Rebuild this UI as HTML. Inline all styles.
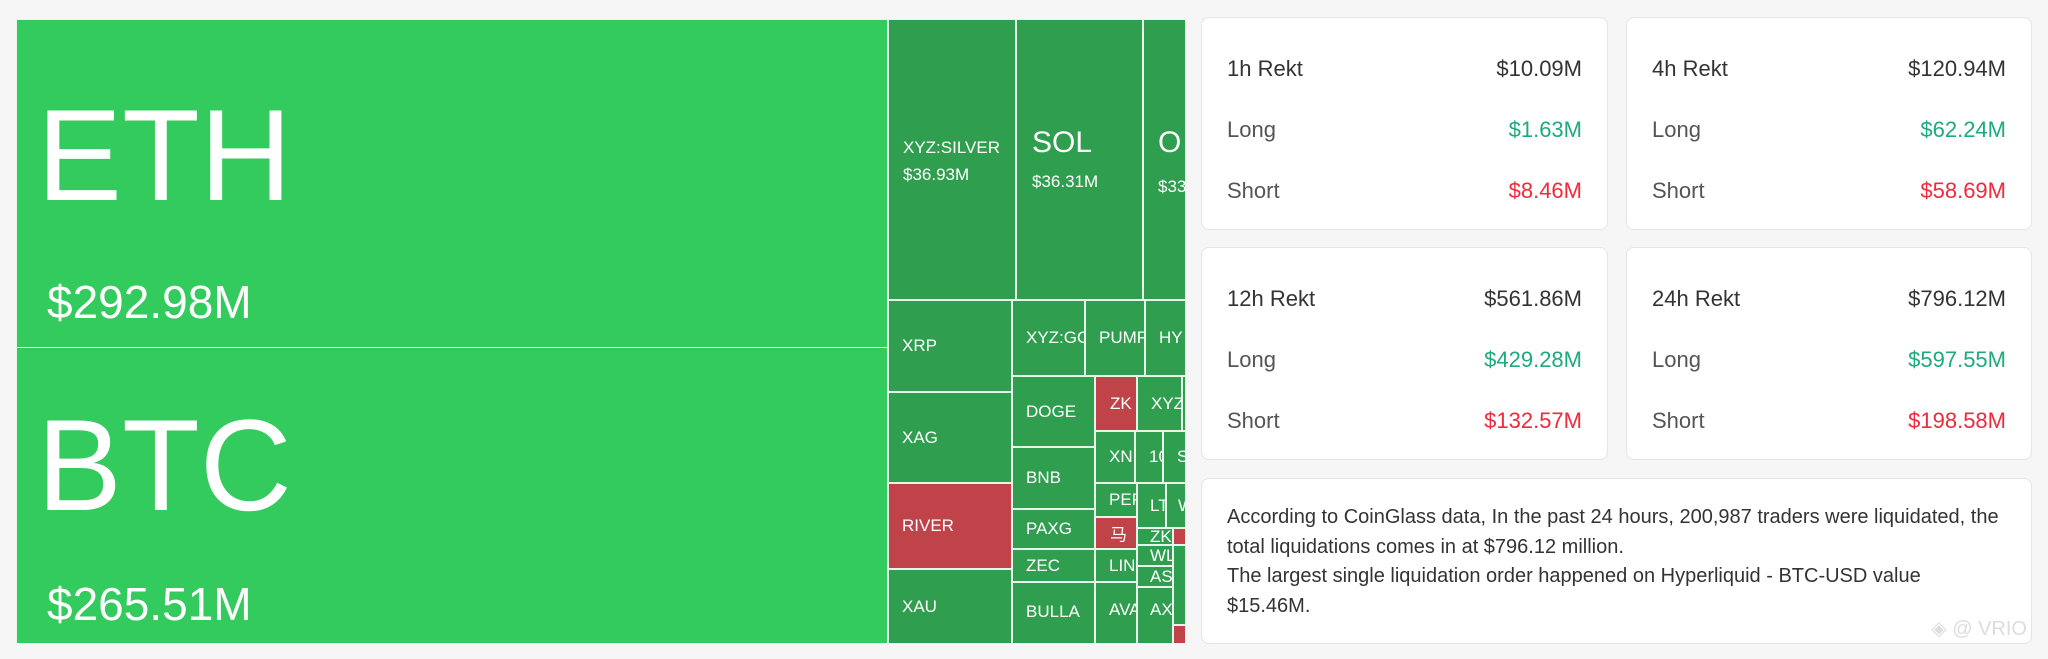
<!DOCTYPE html>
<html><head><meta charset="utf-8"><style>
body{margin:0;width:2048px;height:659px;background:#f6f6f6;position:relative;overflow:hidden;font-family:"Liberation Sans","Noto Sans CJK SC",sans-serif}
.t{position:absolute;box-sizing:border-box;border:1px solid #e8f5ea;color:#fff;overflow:hidden;white-space:nowrap;background:#2f9e4f}
.t span{position:absolute;left:13px;top:50%;transform:translateY(-50%);font-size:17px}
.r{background:#c0434a}
.b{background:#34cb5e}
.big{position:absolute;left:20px;font-size:130px;transform:scaleX(0.98);transform-origin:left top}
.card{position:absolute;background:#fff;border:1px solid #e4e4e4;border-radius:8px;box-sizing:border-box}
.row{position:absolute;left:25px;right:25px;font-size:22px;color:#555;display:flex;justify-content:space-between}
.row b{font-weight:normal;color:#333}
.g{color:#1daa7d!important}.rd{color:#ee2a3c!important}
</style></head><body>
<div class="t b" style="left:16px;top:19px;width:872px;height:329px"><div class="big" style="top:60px">ETH</div><div style="position:absolute;left:30px;top:255px;font-size:46px">$292.98M</div></div>
<div class="t b" style="left:16px;top:347px;width:872px;height:297px"><div class="big" style="top:42px">BTC</div><div style="position:absolute;left:30px;top:229px;font-size:46px">$265.51M</div></div>
<div class="t" style="left:888px;top:19px;width:128px;height:281px"><div style="position:absolute;left:14px;top:114px;font-size:17px;line-height:27px">XYZ:SILVER<br>$36.93M</div></div>
<div class="t" style="left:1016px;top:19px;width:127px;height:281px"><div style="position:absolute;left:15px;top:106px;font-size:30px">SOL</div><div style="position:absolute;left:15px;top:152px;font-size:17px">$36.31M</div></div>
<div class="t" style="left:1143px;top:19px;width:43px;height:281px"><div style="position:absolute;left:14px;top:106px;font-size:30px">O</div><div style="position:absolute;left:14px;top:157px;font-size:17px">$33</div></div>
<div class="t" style="left:888px;top:300px;width:124px;height:92px"><span>XRP</span></div>
<div class="t" style="left:888px;top:392px;width:124px;height:91px"><span>XAG</span></div>
<div class="t r" style="left:888px;top:483px;width:124px;height:86px"><span>RIVER</span></div>
<div class="t" style="left:888px;top:569px;width:124px;height:75px"><span>XAU</span></div>
<div class="t" style="left:1012px;top:300px;width:73px;height:76px"><span>XYZ:GO</span></div>
<div class="t" style="left:1085px;top:300px;width:60px;height:76px"><span style="left:13px">PUMP</span></div>
<div class="t" style="left:1145px;top:300px;width:41px;height:76px"><span>HY</span></div>
<div class="t" style="left:1012px;top:376px;width:83px;height:71px"><span>DOGE</span></div>
<div class="t" style="left:1012px;top:447px;width:83px;height:62px"><span>BNB</span></div>
<div class="t" style="left:1012px;top:509px;width:83px;height:40px"><span>PAXG</span></div>
<div class="t" style="left:1012px;top:549px;width:83px;height:33px"><span>ZEC</span></div>
<div class="t" style="left:1012px;top:582px;width:83px;height:62px"><span style="top:48%">BULLA</span></div>
<div class="t r" style="left:1095px;top:376px;width:42px;height:55px"><span style="left:14px">ZK</span></div>
<div class="t" style="left:1137px;top:376px;width:45px;height:55px"><span>XYZ</span></div>
<div class="t" style="left:1182px;top:376px;width:4px;height:55px"></div>
<div class="t" style="left:1095px;top:431px;width:40px;height:52px"><span>XN</span></div>
<div class="t" style="left:1135px;top:431px;width:28px;height:52px"><span>10</span></div>
<div class="t" style="left:1163px;top:431px;width:23px;height:52px"><span>S</span></div>
<div class="t" style="left:1095px;top:483px;width:42px;height:34px"><span>PEP</span></div>
<div class="t r" style="left:1095px;top:517px;width:42px;height:32px"><span style="left:14px">马</span></div>
<div class="t" style="left:1095px;top:549px;width:42px;height:33px"><span>LIN</span></div>
<div class="t" style="left:1095px;top:582px;width:42px;height:62px"><span style="top:45%">AVA</span></div>
<div class="t" style="left:1137px;top:483px;width:29px;height:45px"><span style="left:12px">LT</span></div>
<div class="t" style="left:1166px;top:483px;width:20px;height:45px"><span style="left:11px">W</span></div>
<div class="t" style="left:1137px;top:528px;width:36px;height:17px"><span style="left:12px">ZK</span></div>
<div class="t" style="left:1137px;top:545px;width:36px;height:21px"><span style="left:12px">WL</span></div>
<div class="t" style="left:1137px;top:566px;width:36px;height:21px"><span style="left:12px">AS</span></div>
<div class="t" style="left:1137px;top:587px;width:36px;height:57px"><span style="left:12px;top:40%">AX</span></div>
<div class="t r" style="left:1173px;top:528px;width:13px;height:17px"></div>
<div class="t" style="left:1173px;top:545px;width:13px;height:80px"></div>
<div class="t r" style="left:1173px;top:625px;width:13px;height:19px"></div>

<div class="card" style="left:1201px;top:17px;width:407px;height:213px">
<div class="row" style="top:38px"><b>1h Rekt</b><b>$10.09M</b></div>
<div class="row" style="top:99px">Long<b class="g">$1.63M</b></div>
<div class="row" style="top:160px">Short<b class="rd">$8.46M</b></div></div>
<div class="card" style="left:1626px;top:17px;width:406px;height:213px">
<div class="row" style="top:38px"><b>4h Rekt</b><b>$120.94M</b></div>
<div class="row" style="top:99px">Long<b class="g">$62.24M</b></div>
<div class="row" style="top:160px">Short<b class="rd">$58.69M</b></div></div>
<div class="card" style="left:1201px;top:247px;width:407px;height:213px">
<div class="row" style="top:38px"><b>12h Rekt</b><b>$561.86M</b></div>
<div class="row" style="top:99px">Long<b class="g">$429.28M</b></div>
<div class="row" style="top:160px">Short<b class="rd">$132.57M</b></div></div>
<div class="card" style="left:1626px;top:247px;width:406px;height:213px">
<div class="row" style="top:38px"><b>24h Rekt</b><b>$796.12M</b></div>
<div class="row" style="top:99px">Long<b class="g">$597.55M</b></div>
<div class="row" style="top:160px">Short<b class="rd">$198.58M</b></div></div>
<div class="card" style="left:1201px;top:478px;width:831px;height:166px">
<div style="position:absolute;left:25px;right:8px;top:24px;font-size:20px;line-height:29.5px;color:#333">According to CoinGlass data, In the past 24 hours, 200,987 traders were liquidated, the total liquidations comes in at $796.12 million.<br>The largest single liquidation order happened on Hyperliquid - BTC-USD value<br>$15.46M.</div>
<div style="position:absolute;right:4px;bottom:2px;font-size:20px;color:#ddd">◈ @ VRIO</div></div>
</body></html>
